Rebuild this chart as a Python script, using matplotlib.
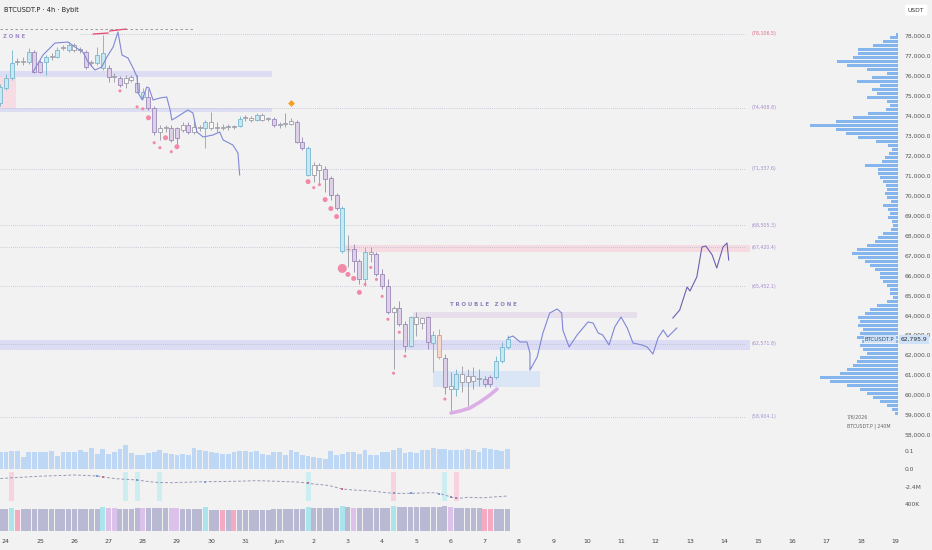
import matplotlib
matplotlib.use("Agg")
import matplotlib.pyplot as plt

# ---- 4h candles, first one at May 23 20:00 ----
opens = [74650, 75400, 75900, 76700, 76700, 76700, 77200, 76700, 76700, 76950,
         76950, 77380, 77300, 77550, 77300, 77200, 76650, 76650, 76400, 76400,
         75950, 75900, 75650, 75800, 75650, 74950, 74950, 74400, 73200, 73400,
         73400, 73400, 73300, 73550, 73200, 73400, 73400, 73700, 73400, 73400,
         73450, 73450, 73500, 73900, 73800, 73800, 74050, 73850, 73850, 73550,
         73600, 73600, 73700, 72700, 72400, 71050, 71550, 71350, 70900, 70050,
         69400, 67300, 67300, 66700, 65800, 67150, 67050, 66050, 65450, 64150,
         64350, 63550, 62450, 63900, 63600, 63900, 62610, 63010, 61860, 60450,
         60300, 61050, 60650, 60950, 60800, 60800, 60550, 60900, 61700, 62400]
highs = [75600, 76100, 77300, 76900, 76950, 77400, 77300, 76800, 77050, 77150,
         77450, 77550, 77700, 77650, 77450, 77300, 76800, 77450, 78050, 76550,
         76150, 76000, 76050, 76050, 76050, 75400, 75350, 74500, 73550, 73550,
         73550, 73450, 73700, 73700, 73800, 73550, 73800, 74200, 73700, 73600,
         73600, 73550, 74000, 74050, 74000, 74150, 74150, 73950, 73950, 73700,
         74150, 73900, 73800, 72950, 72500, 71700, 71650, 71500, 71000, 70150,
         69500, 68050, 67550, 66800, 67400, 67400, 67150, 66300, 65800, 64450,
         64700, 63700, 63950, 64150, 63900, 63950, 63200, 63300, 62050, 61150,
         61300, 61450, 61300, 61400, 61300, 60950, 61000, 61950, 62650, 63000]
lows = [74500, 75300, 75800, 76550, 76550, 76600, 76150, 76150, 76050, 76800,
        76900, 77300, 77200, 77200, 77150, 76350, 76500, 76550, 76300, 75700,
        75700, 75450, 75400, 75700, 75150, 74850, 74300, 73050, 72800, 73200,
        72700, 72550, 73200, 73100, 73100, 73250, 72400, 73300, 73200, 73300,
        73300, 73350, 73450, 73750, 73700, 73750, 73750, 73750, 73450, 73400,
        73450, 73550, 72650, 72300, 71000, 70700, 70650, 70200, 69800, 69300,
        67100, 66400, 66150, 65550, 65450, 66650, 65950, 65300, 64050, 61300,
        63450, 62150, 62400, 62950, 63300, 62300, 61150, 61800, 60050, 59150,
        59950, 60150, 59450, 60300, 60450, 60400, 60400, 60800, 61600, 62300]
closes = [75450, 75900, 76650, 76720, 76680, 77200, 76200, 76200, 76950, 76970,
          77300, 77420, 77550, 77300, 77280, 76450, 76670, 77050, 77150, 75950,
          75970, 75550, 75900, 75950, 75200, 75200, 74400, 73200, 73400, 73420,
          72800, 72900, 73550, 73200, 73450, 73420, 73700, 73400, 73420, 73420,
          73470, 73470, 73850, 73920, 73900, 74050, 73800, 73870, 73550, 73570,
          73620, 73750, 72700, 72400, 71050, 71550, 71300, 70850, 70050, 69400,
          67200, 67330, 66700, 65800, 67150, 67050, 66050, 65450, 64150, 64350,
          63550, 62450, 63900, 63550, 63850, 62650, 63010, 61900, 60400, 60300,
          61050, 60650, 60950, 60700, 60830, 60550, 60900, 61700, 62400, 62796]
tones = ("bbbwwbppbw" "bwbwwpwbbp" "wpwwpbppww" "ppwpwwbwww" "wwbwwbwwpw"
         "wwppbwwppp" "bwppbwpppw" "ppbwwpbopw" "bwwwwppbbb")

day_labels = ['24', '25', '26', '27', '28', '29', '30', '31', 'Jun', '2', '3', '4', '5',
              '6', '7', '8', '9', '10', '11', '12', '13', '14', '15', '16', '17', '18', '19']

# pink dots under the drop
dot_idx = [21, 24, 25, 26, 27, 28, 29, 30, 31, 54, 55, 56, 57, 58, 59, 60, 61, 62,
           63, 64, 65, 66, 67, 68, 69, 70, 71, 78]
dot_price = [75250, 74450, 74350, 73900, 72650, 72400, 72900, 72200, 72450, 70700,
             70400, 70550, 69800, 69350, 68950, 66350, 66050, 65850, 65150, 65550,
             66400, 65800, 64950, 63800, 61100, 63150, 61950, 59800]
dot_kind = "sssmssmsmmssmmmlmmmsssssssss"

levels = [78106.5, 74408.8, 71337.6, 68505.3, 67420.4, 65452.1, 62571.8, 58904.1]
level_colors = ['#e06a86', '#a68ccc', '#9a94c4', '#a68ccc', '#a68ccc', '#a68ccc',
                '#a68ccc', '#9a9ad0']

# zones: (start idx, end idx, low, high, colour)
zones = [(-0.05, 47.7, 75945, 76246, '#dcdcf3'),
         (-0.05, 47.7, 74191, 74391, '#dcdcf3'),
         (-0.05, 2.75, 74391, 75945, '#f6dde4'),
         (-0.05, 131.5, 62261, 62762, '#dcdcf5'),
         (60.5, 131.5, 67173, 67524, '#f7dbe3'),
         (72.4, 111.7, 63865, 64165, '#e8dfec'),
         (75.9, 94.7, 60406, 61208, '#dae5f5')]

path_x = [5.74, 7.49, 9.6, 11.88, 13.1, 14.5, 15.4, 16.6, 17.8, 18.7, 19.8, 20.65, 21.35,
          22.4, 23.3, 24.0, 24.2, 24.9, 25.7, 26.1, 26.8, 28.0, 29.2, 29.8, 30.1, 31.0,
          32.9, 33.8, 34.5, 35.6, 37.3, 38.5, 39.1, 40.8, 41.7, 42.0]
path_y = [76195, 77048, 77649, 77699, 77449, 77198, 76697, 76296, 76446, 76947, 77449,
          78200, 77048, 76897, 76396, 75945, 75143, 74792, 75444, 75394, 74792, 74892,
          74942, 74291, 73789, 73940, 74291, 74140, 73188, 72937, 73038, 73188, 72787,
          72536, 72135, 71033]

fc1_x = [89.07, 89.95, 91.2, 92.4, 92.93, 92.93, 94.2, 95.2, 96.4, 97.7, 98.5, 98.7,
         99.8, 101.2, 103.1, 104.0, 104.9, 105.7, 106.8, 107.8, 108.9, 110.0, 111.0,
         112.6, 113.5, 114.5, 115.4, 116.3, 117.1, 118.7]
fc1_y = [62862, 62962, 62661, 62661, 62110, 61257, 61910, 63113, 64115, 64316, 64115,
         63263, 62411, 63012, 63664, 63614, 63113, 63012, 62511, 63414, 63915, 63364,
         62612, 62511, 62411, 62060, 62862, 63263, 62912, 63364]
fc2_x = [118.0, 119.2, 120.5, 121.0, 122.2, 123.1, 123.8, 124.9, 125.7, 126.8, 127.5, 127.8]
fc2_y = [63865, 64266, 65419, 65218, 65920, 67424, 67474, 67023, 66371, 67424, 67624, 66772]

arc_x = [79.07, 80.65, 82.4, 84.15, 85.9, 87.15]
arc_y = [59103, 59203, 59354, 59654, 60005, 60305]

red_segs = [([16.3, 18.9], [78100, 78150]), ([19.2, 22.05], [78250, 78350])]

# volume profile
vp_price = list(range(59100, 78101, 200))
vp_vol = [3, 6, 11, 18, 25, 31, 38, 51, 68, 78, 58, 51, 45, 41, 38, 31, 35, 38, 36, 41,
          38, 35, 40, 38, 40, 33, 28, 21, 11, 5, 8, 8, 11, 15, 18, 18, 23, 28, 33, 40,
          46, 41, 31, 23, 20, 15, 7, 5, 6, 10, 8, 10, 15, 7, 11, 13, 11, 12, 15, 18,
          20, 20, 33, 16, 13, 9, 6, 10, 22, 40, 52, 62, 88, 62, 45, 30, 12, 8, 11, 31,
          21, 26, 18, 41, 26, 11, 31, 51, 61, 45, 40, 40, 25, 15, 8, 2]

volume = [0.093, 0.093, 0.098, 0.098, 0.067, 0.093, 0.093, 0.093, 0.096, 0.098,
          0.074, 0.096, 0.096, 0.096, 0.104, 0.093, 0.117, 0.085, 0.111, 0.085,
          0.093, 0.111, 0.135, 0.089, 0.080, 0.080, 0.089, 0.093, 0.104, 0.089,
          0.085, 0.080, 0.085, 0.080, 0.117, 0.107, 0.098, 0.093, 0.089, 0.085,
          0.085, 0.093, 0.098, 0.098, 0.093, 0.098, 0.085, 0.080, 0.093, 0.093,
          0.080, 0.104, 0.093, 0.080, 0.074, 0.067, 0.061, 0.056, 0.098, 0.080,
          0.085, 0.093, 0.093, 0.085, 0.104, 0.080, 0.080, 0.093, 0.093, 0.104,
          0.117, 0.089, 0.093, 0.089, 0.104, 0.104, 0.117, 0.111, 0.111, 0.107,
          0.104, 0.104, 0.111, 0.104, 0.093, 0.117, 0.111, 0.107, 0.098, 0.113]

flow = [-1.55, -1.52, -1.48, -1.45, -1.42, -1.38, -1.35, -1.32, -1.3, -1.28,
        -1.26, -1.25, -1.22, -1.2, -1.22, -1.25, -1.27, -1.3, -1.38, -1.48,
        -1.55, -1.6, -1.63, -1.66, -1.7, -1.78, -1.85, -1.92, -1.95, -1.96,
        -1.97, -1.95, -1.93, -1.92, -1.9, -1.88, -1.87, -1.86, -1.86, -1.85,
        -1.84, -1.83, -1.82, -1.8, -1.78, -1.77, -1.78, -1.8, -1.82, -1.84,
        -1.86, -1.88, -1.9, -1.95, -2.03, -2.1, -2.15, -2.2, -2.3, -2.45,
        -2.6, -2.65, -2.7, -2.73, -2.76, -2.8, -2.85, -2.93, -2.98, -3.03,
        -3.04, -3.04, -3.03, -3.02, -3.0, -2.98, -2.97, -3.05, -3.2, -3.4,
        -3.53, -3.5, -3.43, -3.45, -3.47, -3.47, -3.42, -3.38, -3.34, -3.3]
flow_red = [18, 54, 60]
flow_blue = [17, 24, 36, 69, 72, 77]
flow_gray = [79, 80]
span_pink = [2, 69, 80]
span_teal = [22, 24, 28, 54, 78]

osc = [330, 330, 345, 306, 330, 330, 330, 330, 330, 330,
       330, 330, 330, 330, 330, 330, 330, 330, 355, 345,
       345, 325, 325, 325, 345, 340, 340, 340, 340, 345,
       345, 345, 330, 330, 330, 330, 355, 316, 316, 306,
       316, 306, 316, 316, 316, 316, 316, 316, 330, 330,
       330, 330, 330, 330, 355, 340, 340, 340, 340, 340,
       365, 355, 345, 345, 345, 345, 345, 345, 345, 375,
       355, 355, 355, 355, 355, 355, 355, 355, 365, 360,
       345, 345, 345, 345, 345, 330, 330, 330, 330, 330]
osc_tones = ("ggtkgggggg" "ggggggggtl" "lgggglgggg" "llggggtggk" "gkgggggggg"
             "ggggtggggg" "tglggggggt" "gggggggggl" "gggggkkggg")

BG = '#f2f2f2'
W, H = 932, 550
fill = {'b': '#c6e8f3', 'p': '#dfd0ea', 'w': '#f8f8f8', 'o': '#f7d8cb'}
edge = {'b': '#72b2cc', 'p': '#9582b4', 'w': '#9696a2', 'o': '#d09890'}
osc_col = {'g': '#b9b9d4', 't': '#ace4ec', 'k': '#f4abc1', 'l': '#dcc2ea'}


def box(l, t, r, b):
    return [l / W, 1 - b / H, (r - l) / W, (b - t) / H]


fig = plt.figure(figsize=(W / 100, H / 100), dpi=100)
fig.patch.set_facecolor(BG)
ax = fig.add_axes(box(0, 20, 898, 440))
ax_v = fig.add_axes(box(0, 441, 898, 469), sharex=ax)
ax_f = fig.add_axes(box(0, 470, 898, 503), sharex=ax)
ax_o = fig.add_axes(box(0, 503, 898, 531), sharex=ax)
for a in (ax, ax_v, ax_f, ax_o):
    a.set_facecolor('none')
    for s in a.spines.values():
        s.set_visible(False)
    a.yaxis.tick_right()
    a.tick_params(length=0, labelsize=4.3, labelcolor='#555555', pad=5)
    a.tick_params(axis='x', labelbottom=False)

n = len(opens)
idx = list(range(n))

# volume profile (behind the price axes)
axp = ax.twiny()
axp.axis('off')
axp.barh(vp_price, vp_vol, height=150, left=0, color='#6aa6ec', alpha=0.8, lw=0)
axp.set_xlim(898, 0)
axp.set_zorder(ax.get_zorder() - 1)

# zones and level lines
for x0, x1, lo, hi, c in zones:
    ax.fill_between([x0, x1], lo, hi, color=c, lw=0, zorder=1)
for lv, c in zip(levels, level_colors):
    start = 14 if lv == levels[0] else -0.05
    ax.plot([start, 130.6], [lv, lv], ls=(0, (1, 1.5)), color='#bcbccb', lw=0.6, zorder=1)
    ax.text(131.9, lv, '(' + f'{lv:,.1f}' + ')', fontsize=3.4, color=c, va='center', ha='left')
ax.plot([-0.05, 33.8], [78350, 78350], ls=(0, (3, 3)), color='#8c8c8c', lw=0.6)
for sx, sy in red_segs:
    ax.plot(sx, sy, color='#e6486e', lw=0.9)

# candles
for i in idx:
    t = tones[i]
    ax.vlines(i, lows[i], highs[i], color=edge[t], lw=0.6, zorder=3)
    lo = min(opens[i], closes[i])
    h = max(abs(closes[i] - opens[i]), 45)
    ax.bar(i, h, bottom=lo, width=0.7, color=fill[t], edgecolor=edge[t], lw=0.55, zorder=4)

sizes = {'s': 5, 'm': 13, 'l': 42}
ax.scatter(dot_idx, dot_price, s=[sizes[k] for k in dot_kind], color='#f08aa8', lw=0, zorder=5)
ax.scatter([51], [74641], marker='D', s=12, color='#f2a022', lw=0, zorder=5)

ax.plot(path_x, path_y, color='#8088d6', lw=0.8, zorder=5)
ax.plot(fc1_x, fc1_y, color='#7f86d8', lw=0.8, zorder=5)
ax.plot(fc2_x, fc2_y, color='#6f5fae', lw=0.8, zorder=5)
ax.plot(arc_x, arc_y, color='#dcaee6', lw=2.6, solid_capstyle='round', zorder=3)

ax.text(84.8, 64520, 'T R O U B L E   Z O N E', fontsize=3.9, color='#8a80b8',
        ha='center', va='center', fontweight='bold')
ax.text(0.4, 78000, 'Z O N E', fontsize=3.9, color='#a08cc8', ha='left', va='center',
        fontweight='bold')

ax.set_xlim(-0.05, 157.5)
ax.set_ylim(57750, 78802)
ticks = list(range(58000, 78001, 1000))
ax.set_yticks(ticks)
ax.set_yticklabels([f'{v:,.1f}' for v in ticks])

ax.text(156.9, 62796, 'BTCUSDT.P', fontsize=4.0, color='#2e4f7a', ha='right', va='center',
        bbox=dict(boxstyle='square,pad=0.25', fc='#cfe2f7', ec='none'), zorder=8)
ax.text(1.003, 62796, '62,795.9', transform=ax.get_yaxis_transform(), fontsize=4.3,
        color='#2b2b2b', ha='left', va='center', clip_on=False,
        bbox=dict(boxstyle='square,pad=0.35', fc='#cfe2f7', ec='none'), zorder=8)
ax.text(148.5, 58900, '7/6/2026', fontsize=3.4, color='#666666', ha='left', va='center')
ax.text(148.5, 58450, 'BTCUSDT.P | 240M', fontsize=3.4, color='#666666', ha='left', va='center')

# volume panel
ax_v.bar(idx, volume, width=0.85, color='#bdd7f5', lw=0)
ax_v.axhline(0, ls=(0, (1, 1.5)), color='#a8a8b4', lw=0.6)
ax_v.set_ylim(0, 0.1556)
ax_v.set_yticks([0, 0.1])
ax_v.set_yticklabels(['0.0', '0.1'])

# flow panel
for i in span_pink:
    ax_f.axvspan(i - 0.45, i + 0.45, ymin=0.06, ymax=0.94, color='#f8d3de', lw=0)
for i in span_teal:
    ax_f.axvspan(i - 0.45, i + 0.45, ymin=0.06, ymax=0.94, color='#cdeef0', lw=0)
ax_f.plot(idx, flow, ls=(0, (3, 2)), color='#9a9ab8', lw=0.7)
ax_f.scatter(flow_red, [flow[i] for i in flow_red], marker='s', s=4, color='#e05a6a', lw=0)
ax_f.scatter(flow_blue, [flow[i] for i in flow_blue], marker='s', s=4, color='#6f9ee8', lw=0)
ax_f.scatter(flow_gray, [flow[i] for i in flow_gray], marker='s', s=4, color='#8888a8', lw=0)
ax_f.set_ylim(-4.0, -0.7)
ax_f.set_yticks([-2.4])
ax_f.set_yticklabels(['-2.4M'])

# oscillator panel
ax_o.bar(idx, osc, width=0.88, color=[osc_col[c] for c in osc_tones], lw=0)
ax_o.set_ylim(0, 415)
ax_o.set_yticks([400])
ax_o.set_yticklabels(['400K'])
ax_o.set_xticks([1 + 6 * d for d in range(len(day_labels))])
ax_o.set_xticklabels(day_labels)
ax_o.tick_params(axis='x', labelbottom=True, labelsize=4.5, labelcolor='#444444', pad=6)

fig.text(4 / W, 1 - 10 / H, 'BTCUSDT.P · 4h · Bybit', fontsize=4.8, color='#222222',
         va='center', ha='left')
fig.text(908 / W, 1 - 10 / H, 'USDT', fontsize=4.3, color='#333333', va='center', ha='left',
         bbox=dict(boxstyle='round,pad=0.5,rounding_size=0.3', fc='white', ec='none'))

fig.savefig('out.png', dpi=100, facecolor=BG)
